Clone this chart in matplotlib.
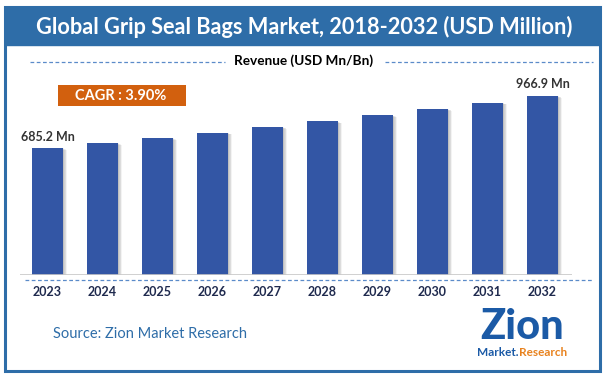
import matplotlib
matplotlib.use("Agg")
import matplotlib.pyplot as plt
from matplotlib.patches import Rectangle
from matplotlib.lines import Line2D

# --- data ---
years = ["2023", "2024", "2025", "2026", "2027", "2028", "2029", "2030", "2031", "2032"]
revenue = [685.2, 712, 739, 768, 799, 829, 862, 896, 930, 966.9]
first_label = "685.2 Mn"
last_label = "966.9 Mn"
title = "Global Grip Seal Bags Market, 2018-2032 (USD Million)"
subtitle = "Revenue (USD Mn/Bn)"
cagr = "CAGR : 3.90%"
source = "Source: Zion Market Research"

W, H = 607, 376
FONT = "Lato"
BLUE = "#2E6DA8"
BAR = "#3356A5"

fig = plt.figure(figsize=(W / 100, H / 100), dpi=100)


def fx(px):
    return px / W


def fy(py):
    # pixel measured from top
    return 1 - py / H


# frame + title banner
fig.patches.append(Rectangle((fx(5), fy(371)), fx(595), (371 - 7) / H, transform=fig.transFigure,
                             fill=False, edgecolor=BLUE, lw=2.2))
fig.patches.append(Rectangle((fx(5), fy(45)), fx(595), 38 / H, transform=fig.transFigure,
                             facecolor=BLUE, edgecolor=BLUE, lw=1))
fig.text(fx(304), fy(27), title, color="white", fontsize=15.7, fontweight="bold",
         family=FONT, ha="center", va="center")

# subtitle with dashed lines
fig.text(fx(304), fy(61), subtitle, color="black", fontsize=9.8, fontweight="bold",
         family=FONT, ha="center", va="center")
for x0, x1 in [(30, 225), (385, 593)]:
    fig.add_artist(Line2D([fx(x0), fx(x1)], [fy(62), fy(62)], transform=fig.transFigure,
                          color="#5B8BC9", lw=0.9, ls=(0, (3, 2))))

# CAGR box
fig.patches.append(Rectangle((fx(58), fy(106)), fx(128), 21 / H, transform=fig.transFigure,
                             facecolor="#D2600E", edgecolor="none"))
fig.text(fx(121), fy(96), cagr, color="white", fontsize=10.5, fontweight="bold",
         family=FONT, ha="center", va="center")

# bar axes
ax = fig.add_axes([fx(20), fy(275), fx(552), 195 / H])
x = range(len(years))
# soft shadow to the right of each bar
for k in range(1, 7):
    ax.bar([i + 0.012 * k for i in x], [v - 1.5 * k for v in revenue], width=0.56,
           color="#555555", alpha=0.07, zorder=1)
ax.bar(x, revenue, width=0.56, color=BAR, zorder=2)
ax.set_xlim(-0.5, 9.536)
ax.set_ylim(0, 1053)
ax.axis("off")
ax.axhline(0, color="#C8C8C8", lw=1.2, zorder=3)

ax.text(0, revenue[0] + 30, first_label, ha="center", va="bottom", fontsize=9,
        fontweight="bold", color="#333333", family=FONT)
ax.text(len(years) - 1, revenue[-1] + 30, last_label, ha="center", va="bottom", fontsize=9,
        fontweight="bold", color="#333333", family=FONT)
for i, y in enumerate(years):
    ax.text(i, -90, y, ha="center", va="center", fontsize=9, fontweight="bold",
            color="#1F2A4E", family=FONT)

fig.add_artist(Line2D([fx(25), fx(593)], [fy(280), fy(280)], transform=fig.transFigure,
                      color="#5B8BC9", lw=0.9, ls=(0, (3, 2))))

# source
fig.text(fx(53), fy(334), source, color="#2E6DA8", fontsize=10.5, family=FONT,
         ha="left", va="center")

# logo (text approximation)
fig.text(fx(522), fy(327), "Zion", color="#1B5AA6", fontsize=30, fontweight="black",
         family=FONT, ha="center", va="center")
fig.text(fx(519), fy(353), "Market.", color="#1B5AA6", fontsize=8.5, fontweight="bold",
         family=FONT, ha="right", va="center")
fig.text(fx(519), fy(353), "Research", color="#E8821E", fontsize=8.5, fontweight="bold",
         family=FONT, ha="left", va="center")

fig.savefig("out.png", dpi=100)
